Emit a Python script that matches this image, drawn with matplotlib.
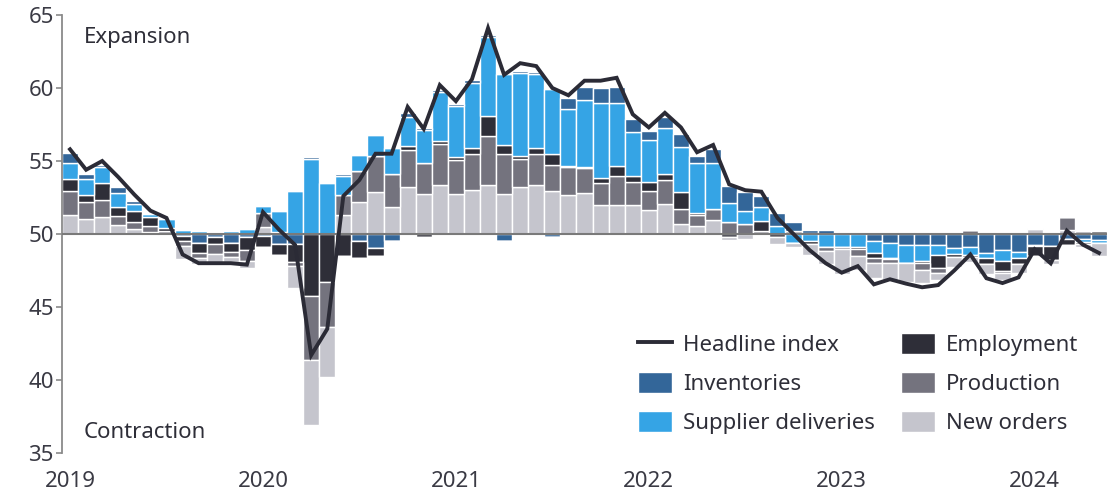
import numpy as np
import matplotlib.pyplot as plt

plt.rcParams['font.family'] = ['Noto Sans', 'DejaVu Sans']

# months from Jan 2019 to May 2024, one bar per month
months = np.arange(65)
year_labels = ['2019', '2020', '2021', '2022', '2023', '2024']

# contributions to the headline index, points above / below 50
new_orders = [1.32, 1.03, 1.19, 0.64, 0.34, 0.16, 0.1, -0.9, -0.4, -0.6, -0.4, -0.46,
              0.5, 0.1, -1.48, -4.45, -3.42, 1.32, 2.17, 2.85, 1.87, 3.22, 2.76, 3.33,
              2.76, 3.03, 3.33, 2.76, 3.22, 3.33, 2.92, 2.65, 2.81, 1.96, 1.96, 1.96,
              1.67, 2.05, 0.68, 0.57, 0.98, -0.2, -0.35, 0.1, -0.53, -0.25, -0.75, -0.87,
              -1.67, -1.0, -1.03, -1.21, -1.3, -0.87, -0.46, -0.64, -0.4, -0.68, -0.46, -0.62,
              0.35, -0.3, 0.25, -0.18, -0.9]
production = [1.6, 1.19, 1.14, 0.62, 0.48, 0.41, 0.1, -0.3, -0.37, -0.68, -0.34, -0.73,
              0.95, 0.05, -0.3, -4.41, -3.08, 1.32, 2.12, 2.47, 2.21, 2.51, 2.12, 2.81,
              2.28, 2.42, 3.36, 2.69, 1.94, 2.12, 1.83, 1.94, 1.71, 1.55, 1.99, 1.6,
              1.3, 1.67, 1.03, 0.75, 0.73, 0.8, 0.7, 0.1, 0.0, 0.2, 0.1, -0.3,
              -0.14, -0.43, -0.32, -0.27, 0.16, -0.5, -0.32, 0.0, 0.3, 0.0, -0.18, 0.0,
              0.08, 0.0, 0.9, 0.23, 0.0]
employment = [0.87, 0.46, 1.19, 0.62, 0.75, 0.57, 0.2, -0.35, -0.64, -0.45, -0.57, -0.91,
              -0.73, -0.73, -1.21, -4.22, -3.31, -1.48, -1.19, -0.5, 0.0, 0.32, -0.23, 0.23,
              0.23, 0.46, 1.42, 0.62, 0.18, 0.46, 0.73, 0.05, 0.1, 0.3, 0.73, 0.43,
              0.62, 0.39, 1.19, 0.1, 0.0, -0.2, 0.0, 0.68, -0.18, 0.0, -0.2, 0.0,
              0.0, -0.18, -0.32, -0.05, 0.0, -0.16, -0.91, -0.23, -0.1, -0.41, -0.68, -0.41,
              -0.68, -0.94, -0.41, -0.16, 0.18]
supplier_deliveries = [1.1, 1.07, 1.1, 0.96, 0.5, 0.25, 0.6, 0.25, 0.18, 0.1, 0.23, 0.34,
                       0.45, 1.45, 2.97, 5.14, 3.47, 1.3, 1.14, 1.48, 1.83, 1.99, 2.24, 3.36,
                       3.47, 4.45, 5.36, 4.91, 5.71, 5.02, 4.45, 3.93, 4.57, 5.14, 4.29, 2.97,
                       2.83, 3.15, 3.06, 3.42, 3.13, 1.32, 0.88, 1.0, 0.57, -0.64, -0.46, -0.87,
                       -0.91, -0.87, -0.87, -1.03, -1.26, -1.07, -0.68, -0.39, -0.55, -0.37, -0.73, -0.46,
                       -0.1, 0.1, 0.0, -0.16, -0.2]
inventories = [0.64, 0.37, 0.1, 0.41, 0.18, -0.1, 0.0, -0.15, -0.64, -0.23, -0.64, -0.2,
               -0.15, -0.68, -0.68, 0.16, 0.0, 0.14, -0.46, -0.98, -0.46, 0.23, 0.14, 0.16,
               0.16, 0.16, 0.18, -0.46, 0.1, 0.16, -0.22, 0.75, 0.87, 1.07, 1.07, 0.91,
               0.64, 0.75, 0.91, 0.48, 0.96, 1.19, 1.3, 0.73, 0.87, 0.59, 0.15, 0.3,
               0.1, 0.0, -0.46, -0.64, -0.75, -0.75, -0.75, -0.98, -0.9, -1.28, -1.1, -1.21,
               -0.75, -0.82, -0.36, -0.36, -0.41]
headline = [55.8, 54.4, 55.0, 53.9, 52.7, 51.6, 51.1, 48.6, 48.0, 48.0, 48.0, 47.9,
            51.5, 50.3, 49.25, 41.7, 43.5, 52.6, 53.7, 55.5, 55.5, 58.7, 57.2, 60.2,
            59.1, 60.6, 64.1, 60.9, 61.7, 61.5, 60.0, 59.5, 60.5, 60.5, 60.7, 58.2,
            57.3, 58.3, 57.3, 55.6, 56.1, 53.4, 53.0, 52.9, 51.1, 50.0, 48.9, 48.0,
            47.35, 47.8, 46.55, 46.9, 46.6, 46.35, 46.5, 47.5, 48.6, 46.97, 46.64, 47.03,
            48.95, 47.99, 50.23, 49.27, 48.7]

series = {
    'New orders': (new_orders, '#c5c5cd'),
    'Production': (production, '#74737e'),
    'Employment': (employment, '#2e2e38'),
    'Supplier deliveries': (supplier_deliveries, '#35a4e5'),
    'Inventories': (inventories, '#336699'),
}
pos_order = ['New orders', 'Production', 'Employment', 'Supplier deliveries', 'Inventories']
neg_order = ['Inventories', 'Supplier deliveries', 'Employment', 'Production', 'New orders']

fig = plt.figure(figsize=(11.09, 4.92), dpi=100)
ax = fig.add_axes([62 / 1109, 1 - 453 / 492, (1107 - 62) / 1109, (453 - 15) / 492])

x = months + 0.5
handles = {}

pos_bottom = np.full(len(months), 50.0)
for name in pos_order:
    vals, col = series[name]
    v = np.clip(np.array(vals), 0, None)
    h = ax.bar(x, v, width=1.0, bottom=pos_bottom, color=col, edgecolor='white',
               linewidth=1.0, zorder=2)
    handles[name] = h
    pos_bottom = pos_bottom + v

neg_bottom = np.full(len(months), 50.0)
for name in neg_order:
    vals, col = series[name]
    v = np.clip(np.array(vals), None, 0)
    ax.bar(x, v, width=1.0, bottom=neg_bottom, color=col, edgecolor='white',
           linewidth=1.0, zorder=2)
    neg_bottom = neg_bottom + v

ax.axhline(50, color='#7a7a7a', lw=1.5, zorder=3)
line, = ax.plot(x, headline, color='#2b2b36', lw=2.8, zorder=4,
                solid_joinstyle='miter', label='Headline index')

ax.set_xlim(0, 65)
ax.set_ylim(35, 65)
ax.set_yticks([35, 40, 45, 50, 55, 60, 65])
ax.set_xticks(np.arange(6) * 12 + 0.5)
ax.set_xticklabels(year_labels)

for s in ['top', 'right', 'bottom']:
    ax.spines[s].set_visible(False)
ax.spines['left'].set_color('#8a8a8a')
ax.spines['left'].set_linewidth(1.3)
ax.tick_params(axis='y', length=4, width=1.2, color='#8a8a8a', labelsize=16,
               labelcolor='#3a3a44', pad=2)
ax.tick_params(axis='x', length=0, labelsize=16, labelcolor='#3a3a44', pad=13)

ax.text(1.37, 63.1, 'Expansion', fontsize=16, color='#2e2e38', va='baseline')
ax.text(1.37, 36.0, 'Contraction', fontsize=16, color='#2e2e38', va='baseline')

leg_handles = [line, handles['Inventories'], handles['Supplier deliveries'],
               handles['Employment'], handles['Production'], handles['New orders']]
leg_labels = ['Headline index', 'Inventories', 'Supplier deliveries',
              'Employment', 'Production', 'New orders']
leg = ax.legend(leg_handles, leg_labels, ncol=2, frameon=False, fontsize=16,
                loc='lower right', bbox_to_anchor=(1089 / 1109, 1 - 445 / 492),
                bbox_transform=fig.transFigure, borderpad=0, handlelength=1.5,
                handleheight=1.1, handletextpad=0.5, columnspacing=1.2,
                labelspacing=0.7, labelcolor='#2e2e38')

fig.savefig('out.png', dpi=100)
